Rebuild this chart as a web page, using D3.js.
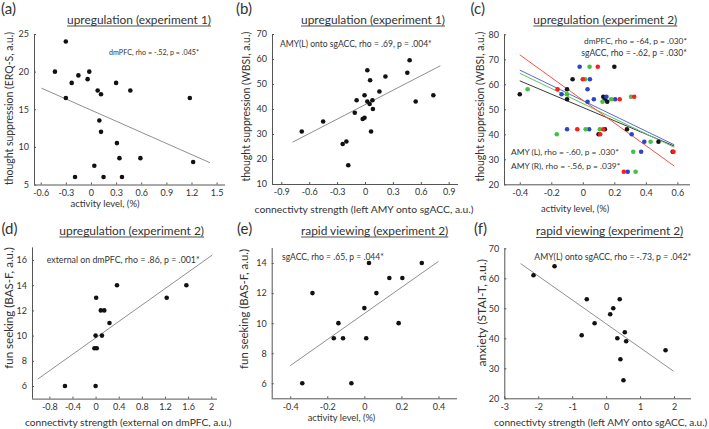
<!DOCTYPE html>
<html><head><meta charset="utf-8">
<script src="https://cdn.jsdelivr.net/npm/d3@7"></script>
<style>
body{margin:0;background:#fff}
svg{display:block}
text{font-family:Lato,sans-serif;fill:#333}
</style>
</head><body>
<svg id="chart" width="709" height="429"></svg>
<script>
// ---------------- data ----------------
// (a) upregulation exp 1, dmPFC activity vs ERQ-S
const aX = [-0.30,-0.43,-0.02,-0.15,-0.04,-0.23,0.30,0.08,0.47,0.12,-0.30,1.18,0.10,0.12,0.31,0.34,0.59,1.22,0.04,-0.19,0.15,0.37];
const aY = [24,20,20,19.5,19,18.5,18.5,17.5,17.5,17,16.5,16.5,13.5,12,10.5,8.5,8.5,8,7.5,6,6,6];
const aFit = [[-0.59,17.8],[1.42,7.9]];
const aXTicks = [-0.6,-0.3,0,0.3,0.6,0.9,1.2,1.5];
const aXLabels = ["-0.6","-0.3","0","0.3","0.6","0.9","1.2","1.5"];
const aYTicks = [5,10,15,20,25];

// (b) upregulation exp 1, AMY(L) onto sgACC vs WBSI
const bX = [-0.68,-0.45,-0.24,-0.18,-0.20,-0.11,-0.09,-0.025,-0.005,-0.005,0.025,0.025,0.05,0.055,0.065,0.08,0.085,0.155,0.22,0.455,0.48,0.545,0.735];
const bY = [31,35,26,17.5,27,38.5,43.5,36,36.5,45.5,55.5,43,42,51.5,31,43.5,40,47,53,54.5,59.5,43,45.5];
const bFit = [[-0.78,26.7],[0.81,57.3]];
const bXTicks = [-0.9,-0.6,-0.3,0,0.3,0.6,0.9];
const bXLabels = ["-0.9","-0.6","-0.3","0","0.3","0.6","0.9"];
const bYTicks = [10,20,30,40,50,60,70];

// (c) upregulation exp 2, four regions vs WBSI
const cBlackX = [-0.40,-0.10,-0.10,-0.065,0.20,0.13,0.14,0.155,0.10,0.14,0.28,0.48,0.57];
const cBlackY = [56,58,54,62,67,55,54,53,40,42,42,37,33];
const cBlueX = [-0.135,-0.02,0.045,0.03,0.03,0.07,0.15,0.205,-0.10,0.04,0.31,0.39,0.37,0.285];
const cBlueY = [56,67,62,58,53,54,55,54,42,42,40,37,33,25];
const cRedX = [-0.16,0.095,0.0,0.234,0.326,-0.035,0.11,0.13,0.575,0.26];
const cRedY = [58,67,62,54,55,42,40,42,33,25];
const cGreenX = [-0.35,-0.10,0.043,0.015,-0.165,0.018,0.108,0.125,0.18,0.306,0.43,0.32,0.335];
const cGreenY = [58,56,67,62,40,42,42,53,54,55,37,33,25];
const cBlackFit = [[-0.4,61.4],[0.58,35.3]];
const cBlueFit = [[-0.4,65.7],[0.58,35.8]];
const cGreenFit = [[-0.4,64.4],[0.58,34.8]];
const cRedFit = [[-0.4,71.8],[0.58,27.3]];
const cXTicks = [-0.4,-0.2,0,0.2,0.4,0.6];
const cXLabels = ["-0.4","-0.2","0","0.2","0.4","0.6"];
const cYTicks = [20,30,40,50,60,70,80];

// (d) upregulation exp 2, external on dmPFC vs BAS-F
const dX = [-0.53,0,0.01,-0.02,0.02,0,0.11,0.09,0.15,0.24,0.37,1.23,1.57];
const dY = [6,6,13,9,9,10,10,12,12,11,14,13,14];
const dFit = [[-1.0,6.55],[2.02,16.4]];
const dXTicks = [-0.8,-0.4,0,0.4,0.8,1.2,1.6,2];
const dXLabels = ["-0.8","-0.4","0","0.4","0.8","1.2","1.6","2"];
const dYTicks = [6,8,10,12,14,16];

// (e) rapid viewing exp 2, sgACC vs BAS-F
const eX = [-0.335,-0.28,-0.14,-0.165,-0.115,-0.07,0,0.01,0.025,0.065,0.135,0.205,0.185,0.31];
const eY = [6,12,10,9,9,6,11,9,14,12,13,13,10,14];
const eFit = [[-0.4,7.17],[0.4,14.11]];
const eXTicks = [-0.4,-0.2,0,0.2,0.4];
const eXLabels = ["-0.4","-0.2","0","0.2","0.4"];
const eYTicks = [6,8,10,12,14];

// (f) rapid viewing exp 2, AMY(L) onto sgACC vs STAI-T
const fX = [-2.14,-1.52,-0.72,-0.57,-0.34,0.12,0.21,0.33,0.40,0.42,0.55,0.59,0.51,1.75];
const fY = [61,64,41,53,45,48,50,40,53,33,42,39,26,36];
const fFit = [[-2.52,64.9],[1.99,29]];
const fXTicks = [-3,-2,-1,0,1,2];
const fXLabels = ["-3","-2","-1","0","1","2"];
const fYTicks = [20,30,40,50,60,70];

// ---------------- drawing ----------------
const svg = d3.select("#chart");
const DOT = "#111", FITGRAY = "#8f8f8f";
const fitList = [];   // texts whose size is matched to the reference width
const underlines = [];

function zipPts(xs, ys){ return xs.map((x,i)=>[x, ys[i]]); }
function addFit(sel, base, target){ sel.style("font-size", base+"px"); fitList.push({sel, base, target}); return sel; }
function refit(){
  fitList.forEach(f=>{
    f.sel.style("font-size", f.base+"px");
    const w = f.sel.node().getComputedTextLength();
    if (w > 0) f.sel.style("font-size", (f.base*f.target/w).toFixed(2)+"px");
  });
  underlines.forEach(u=>{
    const w = u.t.node().getComputedTextLength();
    u.line.attr("x1", u.cx - w/2).attr("x2", u.cx + w/2);
  });
}

function panel(cfg){
  const g = svg.append("g");
  const x = d3.scaleLinear().domain(cfg.xDom).range([cfg.left, cfg.right]);
  const y = d3.scaleLinear().domain(cfg.yDom).range([cfg.bottom, cfg.top]);

  const xa = d3.axisBottom(x).tickValues(cfg.xTicks).tickSize(-2).tickPadding(5)
      .tickFormat((d,i)=>cfg.xLabels[i]);
  const ya = d3.axisLeft(y).tickValues(cfg.yTicks).tickSize(-2).tickPadding(5)
      .tickFormat(d=>String(d));
  const gx = g.append("g").attr("transform",`translate(0,${cfg.bottom})`).call(xa);
  const gy = g.append("g").attr("transform",`translate(${cfg.left},0)`).call(ya);
  [gx,gy].forEach(a=>{
    a.select(".domain").attr("stroke","#555").attr("stroke-width",1)
      .attr("d", a===gx ? `M${cfg.left},0.5H${cfg.right}` : `M0.5,${cfg.bottom}V${cfg.top}`);
    a.selectAll(".tick line").attr("stroke","#555");
    a.selectAll(".tick text").style("font-size","9px").attr("fill","#444")
      .style("font-family","Lato,sans-serif");
  });

  cfg.fits.forEach(f=>{
    g.append("line")
      .attr("x1",x(f.pts[0][0])).attr("y1",y(f.pts[0][1]))
      .attr("x2",x(f.pts[1][0])).attr("y2",y(f.pts[1][1]))
      .attr("stroke",f.color).attr("stroke-width",1);
  });
  cfg.series.forEach(s=>{
    g.selectAll(null).data(zipPts(s.xs,s.ys)).enter().append("circle")
      .attr("cx",d=>x(d[0])).attr("cy",d=>y(d[1])).attr("r",2.3).attr("fill",s.color);
  });

  g.append("text").attr("x",cfg.lx).attr("y",cfg.ly).text(cfg.letter)
    .style("font-size","15px").attr("fill","#111");

  const t = g.append("text").attr("x",cfg.tx).attr("y",cfg.ty).attr("text-anchor","middle")
    .text(cfg.title).attr("fill","#222");
  addFit(t, 14.5, cfg.tw);
  const ul = g.append("line").attr("x1",cfg.tx-cfg.tw/2).attr("x2",cfg.tx+cfg.tw/2)
    .attr("y1",cfg.ty+2.5).attr("y2",cfg.ty+2.5).attr("stroke","#222").attr("stroke-width",0.8);
  underlines.push({t, line:ul, cx:cfg.tx});

  addFit(g.append("text").attr("x",cfg.xlx).attr("y",cfg.xly).attr("text-anchor","middle")
    .text(cfg.xlabel).attr("fill","#333"), 11.8, cfg.xlw);
  addFit(g.append("text").attr("transform",`translate(${cfg.ylx},${cfg.yly}) rotate(-90)`)
    .attr("text-anchor","middle").text(cfg.ylabel).attr("fill","#333"), 12, cfg.ylw);

  cfg.notes.forEach(n=>{
    addFit(g.append("text").attr("x",n.x).attr("y",n.y).attr("text-anchor",n.anchor||"start")
      .text(n.text).attr("fill",n.color||"#222"), 9.3, n.w);
  });
}

panel({letter:"(a)", lx:1, ly:13.5,
  left:34, right:225, top:34, bottom:184.5, xDom:[-0.68,1.6], yDom:[5,25],
  xTicks:aXTicks, xLabels:aXLabels, yTicks:aYTicks,
  title:"upregulation (experiment 1)", tx:139, ty:23.5, tw:144,
  xlabel:"activity level, (%)", xlx:105, xly:206.5, xlw:69,
  ylabel:"thought suppression (ERQ-S, a.u.)", ylx:12.5, yly:108.5, ylw:153,
  fits:[{pts:aFit,color:FITGRAY}],
  series:[{xs:aX,ys:aY,color:DOT}],
  notes:[{text:"dmPFC, rho = -.52, p = .045*", x:199, y:54.5, anchor:"end", w:90}]
});

panel({letter:"(b)", lx:236, ly:13.5,
  left:272, right:458, top:34, bottom:184, xDom:[-1,1], yDom:[10,70],
  xTicks:bXTicks, xLabels:bXLabels, yTicks:bYTicks,
  title:"upregulation (experiment 1)", tx:373, ty:23.5, tw:144,
  xlabel:"connectivty strength (left AMY onto sgACC, a.u.)", xlx:364, xly:212.5, xlw:219,
  ylabel:"thought suppression (WBSI, a.u.)", ylx:249.5, yly:106.7, ylw:150,
  fits:[{pts:bFit,color:FITGRAY}],
  series:[{xs:bX,ys:bY,color:DOT}],
  notes:[{text:"AMY(L) onto sgACC, rho = .69, p = .004*", x:280, y:47, w:152}]
});

panel({letter:"(c)", lx:470.5, ly:13.5,
  left:504, right:690, top:34.3, bottom:184.3, xDom:[-0.5,0.68], yDom:[20,80],
  xTicks:cXTicks, xLabels:cXLabels, yTicks:cYTicks,
  title:"upregulation (experiment 2)", tx:605.3, ty:23.5, tw:144,
  xlabel:"activity level, (%)", xlx:575.2, xly:211.5, xlw:68.3,
  ylabel:"thought suppression (WBSI, a.u.)", ylx:483.5, yly:106.7, ylw:150,
  fits:[{pts:cBlackFit,color:"#3a3a3a"},{pts:cGreenFit,color:"#5cc85c"},
        {pts:cBlueFit,color:"#5a68d8"},{pts:cRedFit,color:"#ff5040"}],
  series:[{xs:cBlackX,ys:cBlackY,color:"#151515"},{xs:cBlueX,ys:cBlueY,color:"#2f45c6"},
          {xs:cGreenX,ys:cGreenY,color:"#43c143"},{xs:cRedX,ys:cRedY,color:"#ff1c1c"}],
  notes:[{text:"dmPFC, rho = -64, p = .030*", x:687, y:44, anchor:"end", w:103, color:"#2a2a2a"},
         {text:"sgACC, rho = -.62, p = .030*", x:687, y:56, anchor:"end", w:105.7, color:"#3b4bc8"},
         {text:"AMY (L), rho = -.60, p = .030*", x:511, y:154.5, w:108, color:"#ff3a2a"},
         {text:"AMY (R), rho = -.56, p = .039*", x:511, y:169, w:109.3, color:"#4cc44c"}]
});

panel({letter:"(d)", lx:1.5, ly:234,
  left:32, right:217, top:247.4, bottom:398.6, xDom:[-1.1,2.1], yDom:[5,17],
  xTicks:dXTicks, xLabels:dXLabels, yTicks:dYTicks,
  title:"upregulation (experiment 2)", tx:131.7, ty:234.5, tw:144.7,
  xlabel:"connectivty strength (external on dmPFC, a.u.)", xlx:128.3, xly:425.5, xlw:206.7,
  ylabel:"fun seeking (BAS-F, a.u.)", ylx:12.5, yly:308, ylw:121.7,
  fits:[{pts:dFit,color:FITGRAY}],
  series:[{xs:dX,ys:dY,color:DOT}],
  notes:[{text:"external on dmPFC, rho = .86, p = .001*", x:46.7, y:262.5, w:153}]
});

panel({letter:"(e)", lx:237, ly:234,
  left:271.7, right:457, top:248, bottom:398.3, xDom:[-0.5,0.5], yDom:[5,15],
  xTicks:eXTicks, xLabels:eXLabels, yTicks:eYTicks,
  title:"rapid viewing (experiment 2)", tx:374.7, ty:234.5, tw:147.3,
  xlabel:"activity level, (%)", xlx:341.5, xly:420.5, xlw:67.7,
  ylabel:"fun seeking (BAS-F, a.u.)", ylx:248, yly:309, ylw:120,
  fits:[{pts:eFit,color:FITGRAY}],
  series:[{xs:eX,ys:eY,color:DOT}],
  notes:[{text:"sgACC, rho = .65, p = .044*", x:282, y:260, w:102}]
});

panel({letter:"(f)", lx:474, ly:234,
  left:504.3, right:691, top:248.3, bottom:398.3, xDom:[-3,2.5], yDom:[20,70],
  xTicks:fXTicks, xLabels:fXLabels, yTicks:fYTicks,
  title:"rapid viewing (experiment 2)", tx:609.7, ty:235, tw:147.3,
  xlabel:"connectivty strength (left AMY onto sgACC, a.u.)", xlx:600.7, xly:425.5, xlw:213.3,
  ylabel:"anxiety (STAI-T, a.u.)", ylx:485.5, yly:312.8, ylw:107.7,
  fits:[{pts:fFit,color:FITGRAY}],
  series:[{xs:fX,ys:fY,color:DOT}],
  notes:[{text:"AMY(L) onto sgACC, rho = -.73, p = .042*", x:534.3, y:260, w:157}]
});

refit();
if (document.fonts && document.fonts.load) {
  Promise.all([document.fonts.load("12px Lato"), document.fonts.ready]).then(refit).catch(()=>{});
}
</script>
</body></html>
